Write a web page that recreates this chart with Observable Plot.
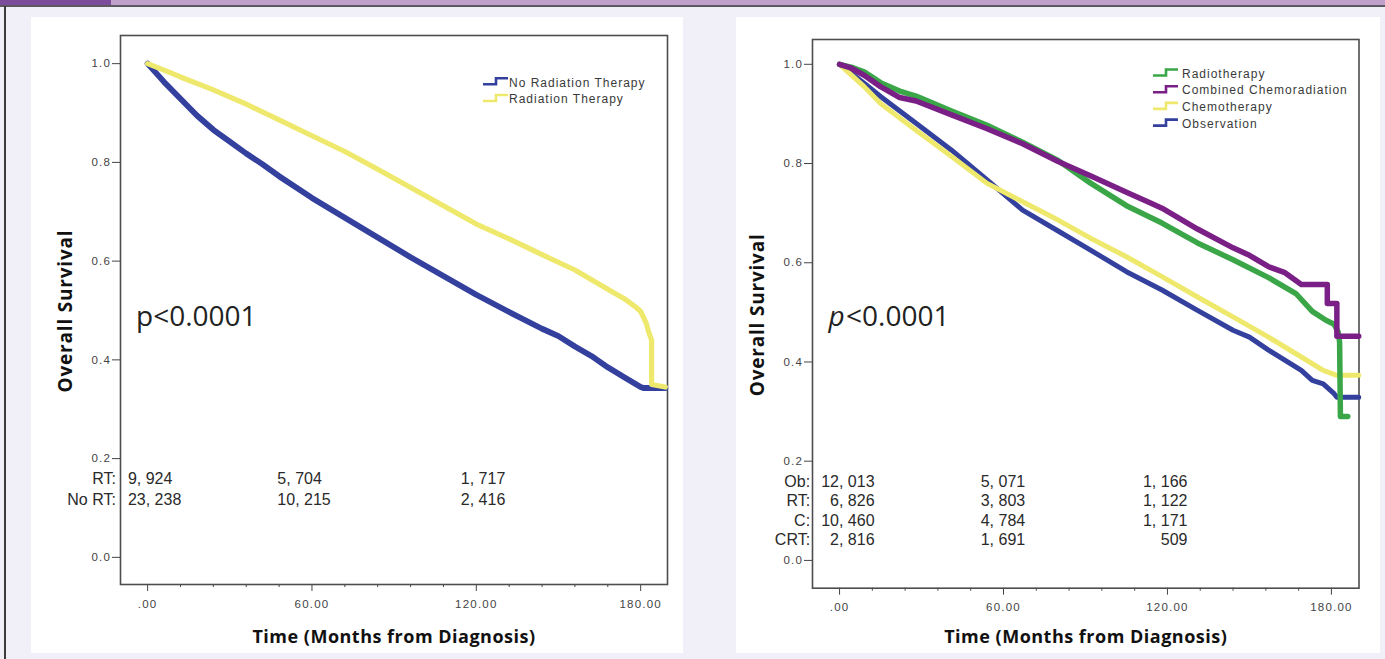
<!DOCTYPE html>
<html>
<head>
<meta charset="utf-8">
<script src="https://cdn.jsdelivr.net/npm/d3@7"></script>
<script src="https://cdn.jsdelivr.net/npm/@observablehq/plot@0.6"></script>
<style>
  html, body { margin: 0; padding: 0; }
  body { width: 1385px; height: 659px; background: #f1eff7; position: relative; overflow: hidden; font-family: "Liberation Sans", Arial, sans-serif; }
  #topbar { position: absolute; left: 0; top: 0; width: 1385px; height: 5px; background: #bfa1cc; }
  #topbar .dark { position: absolute; left: 0; top: 0; width: 111px; height: 5px; background: #7c4b99; }
  #topline { position: absolute; left: 0; top: 5px; width: 1385px; height: 2px; background: #5d5862; }
  #leftline { position: absolute; left: 4px; top: 6px; width: 2px; height: 653px; background: #3c3c3c; }
  .panel { position: absolute; top: 17px; height: 636px; background: #fff; }
  #p1 { left: 31px; width: 652px; }
  #p2 { left: 736px; width: 644px; }
  .panel svg { position: absolute; left: 0; top: 0; overflow: visible; }
</style>
</head>
<body>
<div id="topbar"><div class="dark"></div></div>
<div id="topline"></div>
<div id="leftline"></div>
<div class="panel" id="p1"></div>
<div class="panel" id="p2"></div>
<script>
// ---------- Data: left panel (Radiation vs No Radiation) ----------
const leftNoRTTime = [0, 6, 12, 18, 24, 30, 36, 42, 48, 60, 72, 84, 96, 108, 120, 132, 144, 150, 156, 162, 168, 174, 180, 181, 189];
const leftNoRTSurv = [1.000, 0.963, 0.929, 0.895, 0.866, 0.842, 0.818, 0.796, 0.772, 0.728, 0.688, 0.648, 0.608, 0.570, 0.532, 0.497, 0.463, 0.448, 0.427, 0.408, 0.385, 0.365, 0.345, 0.343, 0.343];
const leftRTTime = [0, 6, 12, 24, 36, 48, 60, 72, 84, 96, 108, 120, 132, 144, 156, 168, 174, 178, 180, 182, 183, 184, 184, 189];
const leftRTSurv = [1.000, 0.987, 0.973, 0.947, 0.918, 0.886, 0.854, 0.822, 0.786, 0.749, 0.712, 0.675, 0.645, 0.613, 0.582, 0.543, 0.524, 0.508, 0.498, 0.475, 0.455, 0.440, 0.350, 0.345];
const leftSeries = ["No Radiation Therapy", "Radiation Therapy"];
const leftRiskGroups = ["RT:", "No RT:"];
const leftRiskRT = [9924, 5704, 1717];
const leftRiskNoRT = [23238, 10215, 2416];

// ---------- Data: right panel (four treatment groups) ----------
const rightRTTime = [0, 5, 9, 15, 22, 28, 41, 54, 67, 80, 92, 105, 118, 131, 144, 157, 167, 173, 178, 181, 182.5, 183, 183.3, 186];
const rightRTSurv = [1.000, 0.993, 0.985, 0.963, 0.946, 0.936, 0.906, 0.877, 0.843, 0.806, 0.760, 0.715, 0.680, 0.640, 0.606, 0.570, 0.538, 0.502, 0.484, 0.476, 0.460, 0.440, 0.290, 0.290];
const rightCRTTime = [0, 4, 9, 15, 22, 28, 41, 54, 67, 80, 92, 105, 114, 118, 131, 144, 150, 157, 163, 169, 178.5, 178.5, 182, 182, 190];
const rightCRTSurv = [1.000, 0.993, 0.978, 0.955, 0.933, 0.926, 0.898, 0.870, 0.840, 0.804, 0.775, 0.742, 0.720, 0.710, 0.668, 0.630, 0.615, 0.592, 0.580, 0.556, 0.556, 0.518, 0.518, 0.452, 0.452];
const rightCTime = [0, 9, 15, 28, 41, 54, 67, 80, 92, 105, 118, 131, 144, 157, 169, 177, 182, 190];
const rightCSurv = [1.000, 0.955, 0.921, 0.867, 0.814, 0.760, 0.723, 0.686, 0.649, 0.612, 0.572, 0.531, 0.491, 0.450, 0.410, 0.383, 0.373, 0.373];
const rightObTime = [0, 9, 15, 28, 41, 54, 67, 80, 92, 105, 118, 131, 144, 150, 157, 169, 173, 177, 181, 182, 190];
const rightObSurv = [1.000, 0.962, 0.935, 0.881, 0.827, 0.767, 0.706, 0.664, 0.625, 0.582, 0.545, 0.504, 0.464, 0.450, 0.424, 0.383, 0.363, 0.356, 0.336, 0.329, 0.329];
const rightSeries = ["Radiotherapy", "Combined Chemoradiation", "Chemotherapy", "Observation"];
const rightRiskGroups = ["Ob:", "RT:", "C:", "CRT:"];
const rightRiskOb = [12013, 5071, 1166];
const rightRiskRT = [6826, 3803, 1122];
const rightRiskC = [10460, 4784, 1171];
const rightRiskCRT = [2816, 1691, 509];

// ---------- Shared ----------
const riskTimes = [0, 60, 120];
const xMajorTicks = [0, 60, 120, 180];
const xMinorTicks = [12, 24, 36, 48, 72, 84, 96, 108, 132, 144, 156, 168];
const yTicks = [0, 0.2, 0.4, 0.6, 0.8, 1.0];
const pValueText = "p<0.0001";
const xTitle = "Time (Months from Diagnosis)";
const yTitle = "Overall Survival";

const BLUE = "#33409d", YELLOW = "#eee96d", GREEN = "#3aa647", PURPLE = "#7a1f86";

const table = (ts, ss) => ts.map((t, i) => ({t, s: ss[i]}));
const fmtX = d => d === 0 ? ".00" : d.toFixed(2);
const fmtRisk = n => d3.format(",")(n).replace(",", ", ");

function axes() {
  return [
    Plot.axisY(yTicks, {tickFormat: d3.format(".1f"), tickSize: 8, tickPadding: 1.5, fontSize: 11.5, color: "#444", label: null, ariaDescription: "tl"}),
    Plot.axisX(xMajorTicks, {tickFormat: fmtX, tickSize: 7, tickPadding: 8, fontSize: 11.5, color: "#444", label: null, ariaDescription: "tl"}),
    Plot.axisX(xMinorTicks, {tickFormat: () => "", tickSize: 3, color: "#444", label: null}),
    Plot.frame({stroke: "#4d4d4d", strokeWidth: 1.6})
  ];
}

function titles(pdx, pdy, xdy, italicP) {
  const m = [
    Plot.text([yTitle], {frameAnchor: "left", textAnchor: "middle", lineAnchor: "middle", rotate: -90, dx: -55, dy: 1, fontSize: 19, fontWeight: "bold", fontFamily: "Open Sans", fill: "#111", ariaDescription: "ytitle"}),
    Plot.text([xTitle], {frameAnchor: "bottom", textAnchor: "middle", lineAnchor: "middle", dy: xdy, fontSize: 18, fontWeight: "bold", fontFamily: "Open Sans", fill: "#111", ariaDescription: "title"})
  ];
  const common = {frameAnchor: "top-left", textAnchor: "start", lineAnchor: "middle", dy: pdy, fontSize: 28, fontFamily: "Open Sans", fill: "#222"};
  if (italicP) {
    m.push(Plot.text([pValueText.slice(0, 1)], {...common, dx: pdx, fontStyle: "italic"}));
    m.push(Plot.text([pValueText.slice(1)], {...common, dx: pdx + 17.5}));
  } else {
    m.push(Plot.text([pValueText], {...common, dx: pdx}));
  }
  return m;
}

function riskMarks(groups, rows, rowDy, colDx, anchor, labelDx) {
  const m = [];
  const style = {lineAnchor: "middle", fontSize: 16, fontFamily: "Liberation Sans, Arial, sans-serif", fill: "#2a2a2a"};
  rows.forEach((vals, r) => {
    m.push(Plot.text([groups[r]], {...style, frameAnchor: "bottom-left", textAnchor: "end", dx: labelDx, dy: rowDy[r]}));
    riskTimes.forEach((t, c) => {
      m.push(Plot.text([{t, n: vals[c]}], {...style, x: "t", text: d => fmtRisk(d.n), frameAnchor: "bottom", textAnchor: anchor, dx: colDx[c], dy: rowDy[r]}));
    });
  });
  return m;
}

function addLegend(svg, names, colors, symX, textX, y0, step) {
  const g = d3.select(svg).append("g").attr("class", "legend").attr("text-anchor", "start");
  names.forEach((name, i) => {
    const y = y0 + i * step;
    g.append("path")
      .attr("d", `M${symX},${y + 2}H${symX + 13}V${y - 4}H${symX + 25}`)
      .attr("fill", "none").attr("stroke", colors[i]).attr("stroke-width", 2.6);
    g.append("text")
      .attr("x", textX).attr("y", y).attr("dy", "0.35em")
      .attr("text-anchor", "start")
      .attr("font-family", "Liberation Sans, Arial, sans-serif")
      .attr("font-size", 12).attr("fill", "#3a3a3a")
      .style("letter-spacing", "1px")
      .text(name);
  });
}

function polish(svg) {
  const s = d3.select(svg);
  s.selectAll('g[aria-description="tl"] text').style("letter-spacing", "1.2px");
  s.selectAll('g[aria-description="title"] text').style("letter-spacing", "0.5px");
  s.selectAll('g[aria-description="ytitle"] text').style("letter-spacing", "0.8px");
}

// ---------- Left plot ----------
const left = Plot.plot({
  width: 652, height: 636,
  marginLeft: 89, marginRight: 16, marginTop: 18, marginBottom: 69,
  style: {background: "transparent", fontFamily: "Liberation Sans, Arial, sans-serif", overflow: "visible"},
  x: {domain: [-9.9, 189.8]},
  y: {domain: [-0.055, 1.057]},
  marks: [
    ...axes(),
    Plot.line(table(leftNoRTTime, leftNoRTSurv), {x: "t", y: "s", stroke: BLUE, strokeWidth: 5.8, strokeLinejoin: "round"}),
    Plot.line(table(leftRTTime, leftRTSurv), {x: "t", y: "s", stroke: YELLOW, strokeWidth: 5.2, strokeLinejoin: "round"}),
    ...titles(15.5, 282, 53, false),
    ...riskMarks(leftRiskGroups, [leftRiskRT, leftRiskNoRT], [-105.5, -84.5], [-19.7, -34.6, -15.5], "start", -4.6)
  ]
});
document.getElementById("p1").appendChild(left);
polish(left);
addLegend(left, leftSeries, [BLUE, YELLOW], 452, 478, 65.3, 16.7);

// ---------- Right plot ----------
const right = Plot.plot({
  width: 644, height: 636,
  marginLeft: 76, marginRight: 21.5, marginTop: 22, marginBottom: 65.3,
  style: {background: "transparent", fontFamily: "Liberation Sans, Arial, sans-serif", overflow: "visible"},
  x: {domain: [-9.9, 190.1]},
  y: {domain: [-0.056, 1.050]},
  marks: [
    ...axes(),
    Plot.line(table(rightObTime, rightObSurv), {x: "t", y: "s", stroke: BLUE, strokeWidth: 5, strokeLinejoin: "round"}),
    Plot.line(table(rightCTime, rightCSurv), {x: "t", y: "s", stroke: YELLOW, strokeWidth: 5, strokeLinejoin: "round"}),
    Plot.line(table(rightRTTime, rightRTSurv), {x: "t", y: "s", stroke: GREEN, strokeWidth: 5.5, strokeLinejoin: "round"}),
    Plot.line(table(rightCRTTime, rightCRTSurv), {x: "t", y: "s", stroke: PURPLE, strokeWidth: 5.5, strokeLinejoin: "round"}),
    ...titles(16, 277.7, 49.5, true),
    ...riskMarks(rightRiskGroups, [rightRiskOb, rightRiskRT, rightRiskC, rightRiskCRT], [-106.7, -87.2, -67.7, -48.2], [35, 21.7, 20], "end", -2.4)
  ]
});
document.getElementById("p2").appendChild(right);
polish(right);
addLegend(right, rightSeries, [GREEN, PURPLE, YELLOW, BLUE], 417, 446, 56.5, 16.7);
</script>
</body>
</html>
